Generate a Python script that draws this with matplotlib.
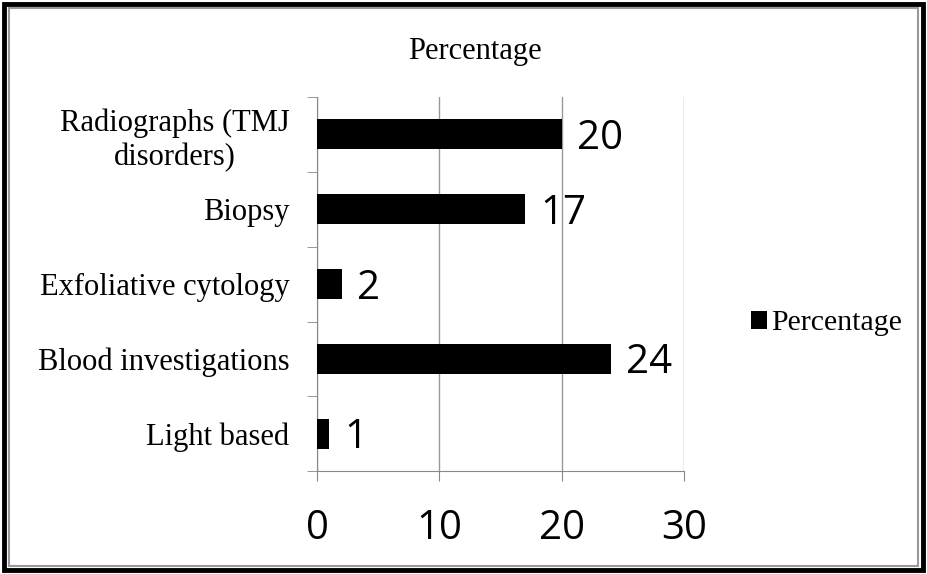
import matplotlib.pyplot as plt
from matplotlib.patches import Rectangle

categories = ["Radiographs (TMJ\ndisorders)", "Biopsy", "Exfoliative cytology",
              "Blood investigations", "Light based"]
values = [20, 17, 2, 24, 1]
x_ticks = [0, 10, 20, 30]
series_name = "Percentage"

serif = "Liberation Serif"
sans = "Open Sans"

fig = plt.figure(figsize=(9.27, 5.74), dpi=100)
ax = fig.add_axes([0.342, 0.179, 0.396, 0.652])

pos = list(range(len(categories)))[::-1]
bars = ax.barh(pos, values, height=0.4, color="black", zorder=3, label=series_name)

for p, v in zip(pos, values):
    ax.annotate(str(v), (v, p), xytext=(11, -3), textcoords="offset points",
                va="center", ha="left", fontsize=29, family=sans)

ax.set_xlim(0, 30)
ax.set_ylim(-0.5, len(categories) - 0.5)
ax.set_xticks(x_ticks)
ax.set_xticklabels([str(t) for t in x_ticks], fontsize=29, family=sans)
ax.tick_params(axis="x", length=7, color="#888888", pad=20)

ax.set_yticks(pos)
ax.set_yticklabels(categories, fontsize=22, family=serif, multialignment="center",
                   linespacing=1.2)
ax.tick_params(axis="y", which="major", length=0, pad=20)
ax.set_yticks([p - 0.5 for p in range(len(categories) + 1)], minor=True)
ax.tick_params(axis="y", which="minor", length=7, color="#888888")

ax.grid(axis="x", color="#999999", linewidth=1, zorder=0)
for s in ["top", "right"]:
    ax.spines[s].set_visible(False)
for s in ["left", "bottom"]:
    ax.spines[s].set_color("#888888")

fig.text(0.512, 0.91, series_name, ha="center", va="center", fontsize=22, family=serif)

fig.legend(handles=[bars], loc="center left", bbox_to_anchor=(0.794, 0.437),
           frameon=False, prop={"family": serif, "size": 21.5}, borderpad=0,
           handlelength=0.55, handleheight=0.55, handletextpad=0.12)

# outer frame
fig.patches.append(Rectangle((0.0045, 0.0065), 0.991, 0.987, transform=fig.transFigure,
                             fill=False, edgecolor="black", linewidth=3.5))
fig.patches.append(Rectangle((0.0095, 0.0145), 0.981, 0.972, transform=fig.transFigure,
                             fill=False, edgecolor="#999999", linewidth=1.5))

fig.savefig("out.png", dpi=100)
